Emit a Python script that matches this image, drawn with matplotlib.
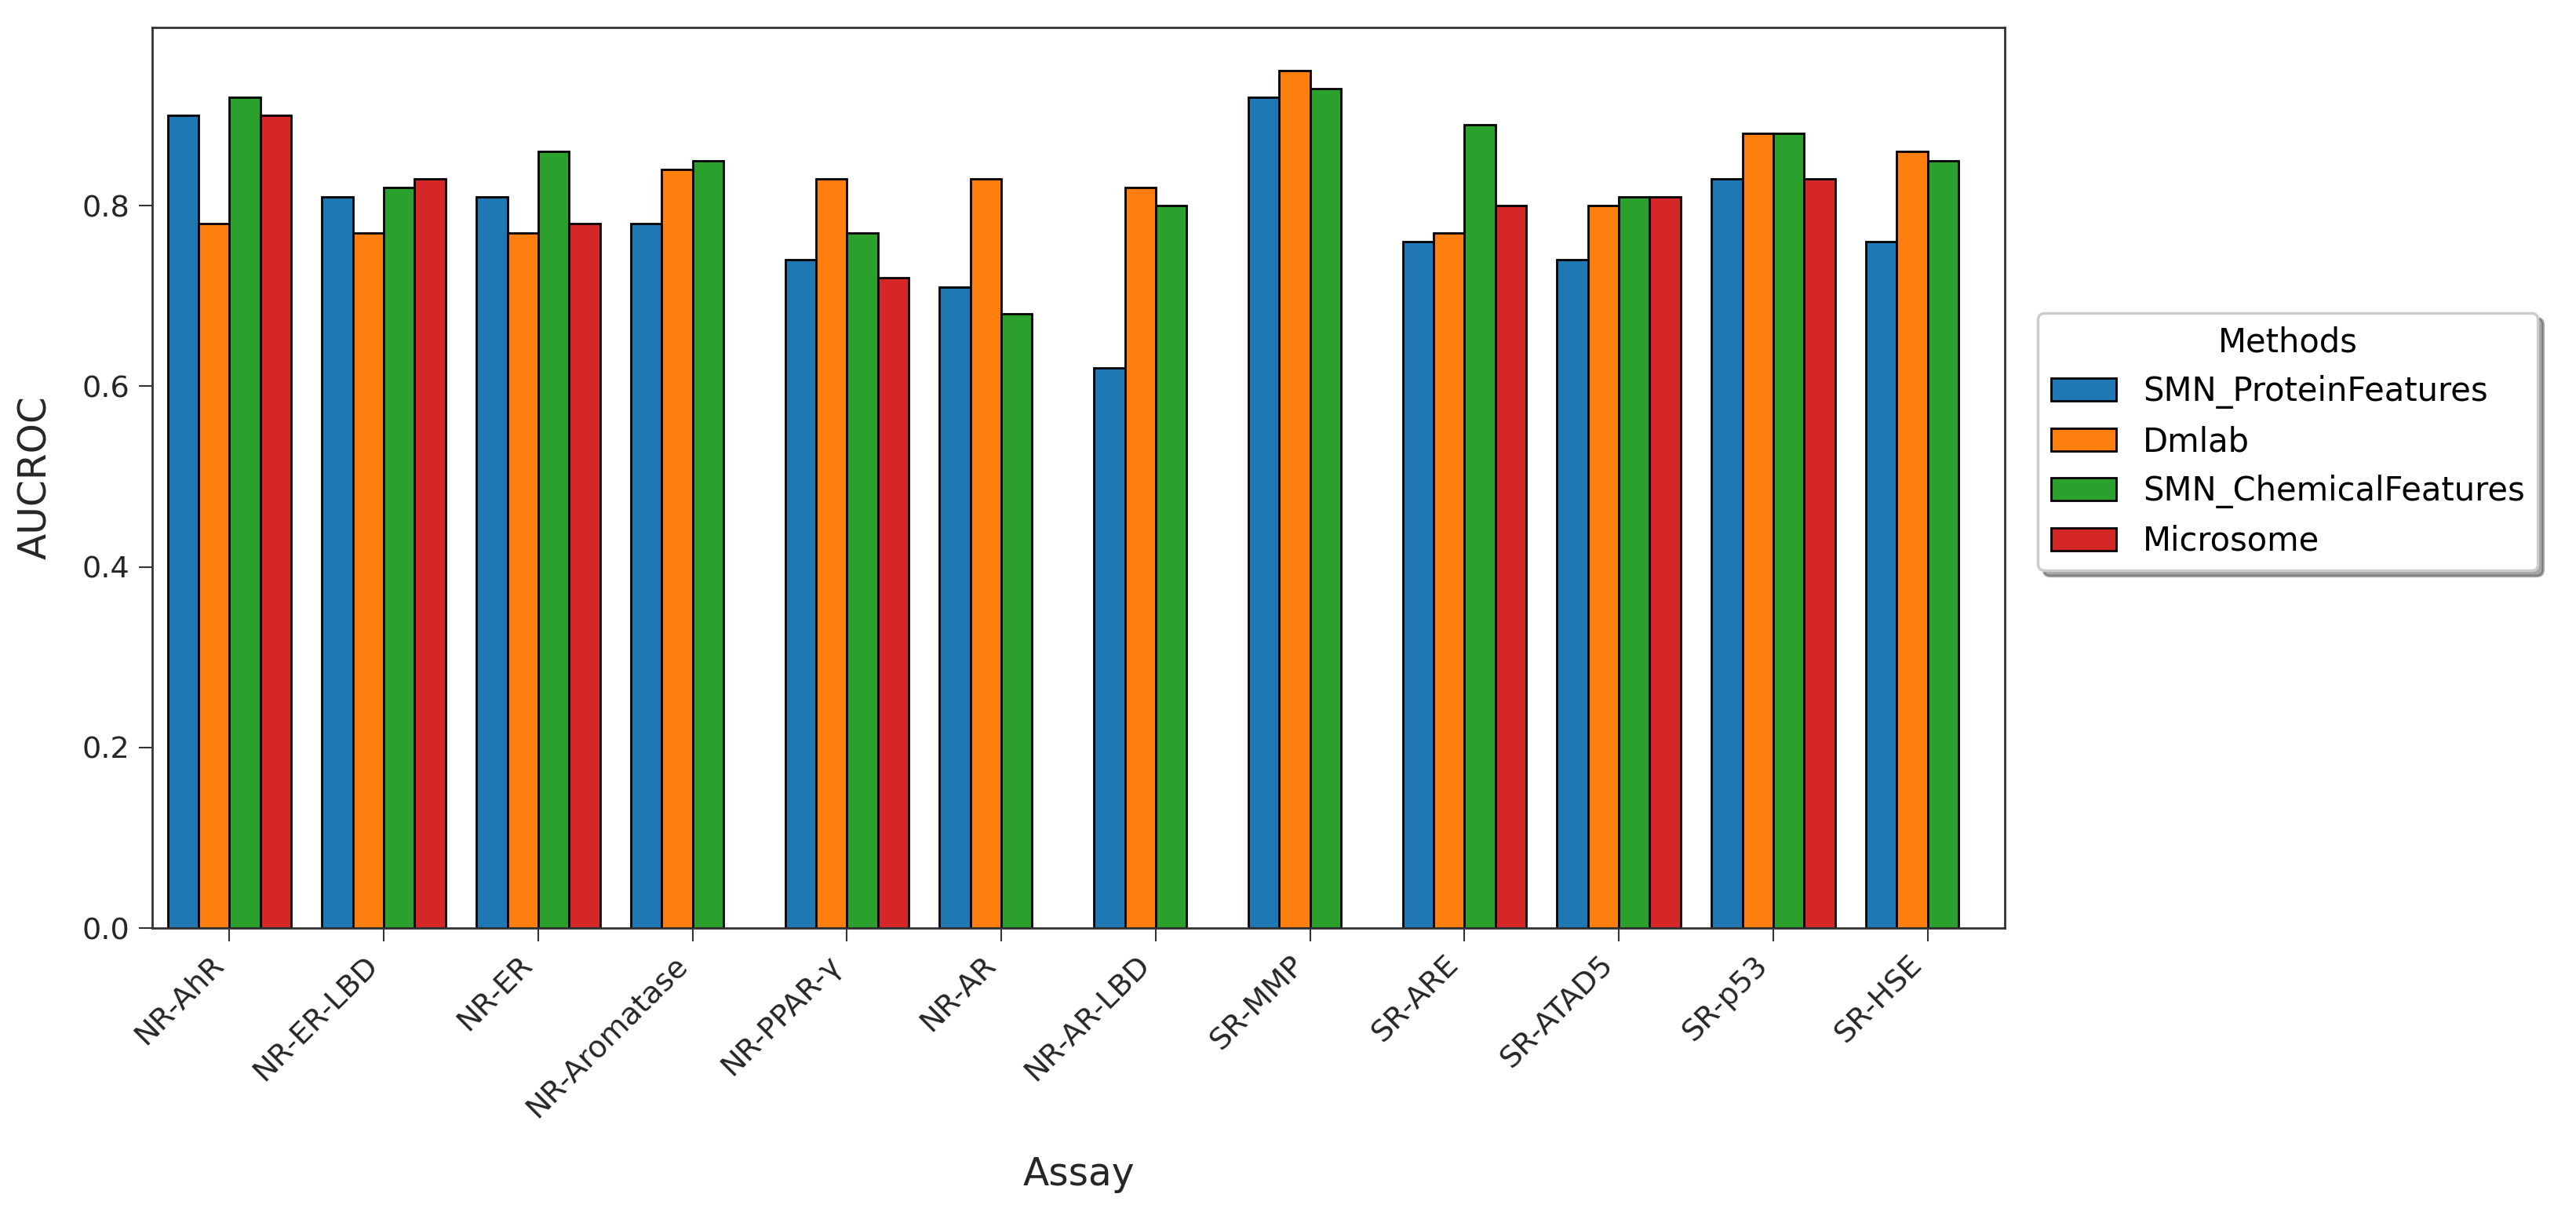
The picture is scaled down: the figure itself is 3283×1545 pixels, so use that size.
import numpy as np
import matplotlib
matplotlib.use("Agg")
import matplotlib.pyplot as plt

assays = ["NR-AhR", "NR-ER-LBD", "NR-ER", "NR-Aromatase", "NR-PPAR-γ", "NR-AR",
          "NR-AR-LBD", "SR-MMP", "SR-ARE", "SR-ATAD5", "SR-p53", "SR-HSE"]
methods = ["SMN_ProteinFeatures", "Dmlab", "SMN_ChemicalFeatures", "Microsome"]

smn_protein = [0.90, 0.81, 0.81, 0.78, 0.74, 0.71, 0.62, 0.92, 0.76, 0.74, 0.83, 0.76]
dmlab = [0.78, 0.77, 0.77, 0.84, 0.83, 0.83, 0.82, 0.95, 0.77, 0.80, 0.88, 0.86]
smn_chemical = [0.92, 0.82, 0.86, 0.85, 0.77, 0.68, 0.80, 0.93, 0.89, 0.81, 0.88, 0.85]
microsome = [0.90, 0.83, 0.78, np.nan, 0.72, np.nan, np.nan, np.nan, 0.80, 0.81, 0.83, np.nan]

series = [smn_protein, dmlab, smn_chemical, microsome]
colors = ["#1f77b4", "#ff7f0e", "#2ca02c", "#d62728"]

dpi = 250
fig = plt.figure(figsize=(3283 / dpi, 1545 / dpi), dpi=dpi)
ax = fig.add_axes([194 / 3283, 1 - 1183 / 1545, (2555 - 194) / 3283, (1183 - 35) / 1545])

x = np.arange(len(assays))
width = 0.2
n = len(series)
for i, (vals, name, c) in enumerate(zip(series, methods, colors)):
    offs = (i - (n - 1) / 2) * width
    ax.bar(x + offs, np.array(vals, dtype=float), width=width, color=c,
           edgecolor="black", linewidth=0.8, label=name)

ax.set_xlim(-0.5, len(assays) - 0.5)
ax.set_xticks(x)
ax.set_xticklabels(assays, rotation=45, ha="right", fontsize=11, color="#262626")
ax.tick_params(axis="y", labelsize=11, labelcolor="#262626")
ax.tick_params(length=4.8, width=0.6, color="#333333")
for s in ax.spines.values():
    s.set_color("#333333")
    s.set_linewidth(0.8)

ax.set_xlabel("Assay", fontsize=14, color="#262626", labelpad=12)
ax.set_ylabel("AUCROC", fontsize=14, color="#262626", labelpad=10)

leg = ax.legend(title="Methods", loc="center left", bbox_to_anchor=(1.018, 0.54),
                borderaxespad=0, shadow=True, fontsize=12, title_fontsize=12)

fig.savefig("out.png", dpi=dpi)
